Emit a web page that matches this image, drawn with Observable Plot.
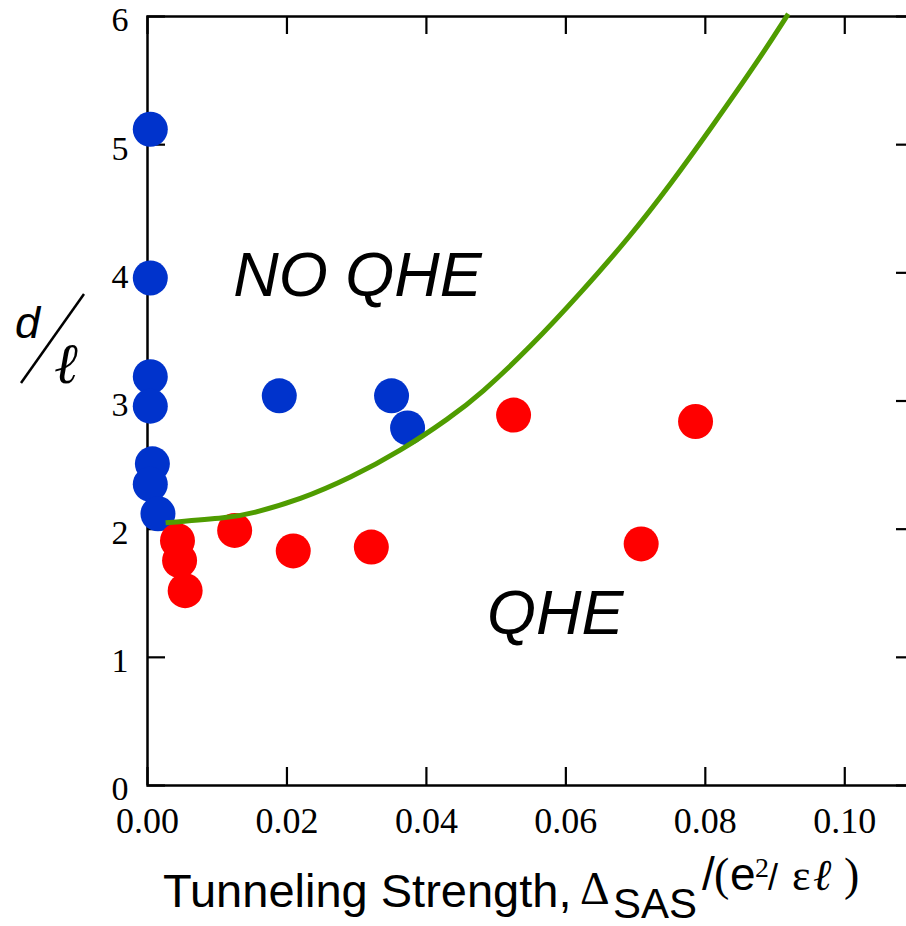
<!DOCTYPE html>
<html><head><meta charset="utf-8">
<script src="https://cdn.jsdelivr.net/npm/d3@7"></script>
<script src="https://cdn.jsdelivr.net/npm/@observablehq/plot@0.6"></script>
<style>
html,body{margin:0;padding:0;background:#fff;overflow:hidden}
</style></head><body><div id="chart"></div>
<script>
// ---- data ----
const noQheX = [0.0004, 0.0004, 0.0004, 0.0004, 0.0007, 0.0004, 0.0015, 0.0189, 0.0350, 0.0373];
const noQheY = [5.12, 3.96, 3.19, 2.96, 2.51, 2.35, 2.12, 3.04, 3.04, 2.79];
const qheX = [0.0043, 0.0046, 0.0054, 0.0125, 0.0209, 0.0321, 0.0525, 0.0708, 0.0786];
const qheY = [1.91, 1.755, 1.52, 1.99, 1.83, 1.86, 2.89, 1.885, 2.84];
const boundaryX = [0.0026, 0.0119, 0.0148, 0.0219, 0.0291, 0.0363, 0.0434, 0.0477, 0.0549, 0.0621, 0.0693, 0.0750, 0.0807, 0.0879, 0.0919];
const boundaryY = [2.05, 2.09, 2.12, 2.23, 2.40, 2.61, 2.87, 3.05, 3.42, 3.84, 4.29, 4.69, 5.12, 5.68, 6.02];
const xTicks = [0, 0.02, 0.04, 0.06, 0.08, 0.10];
const yTicks = [0, 1, 2, 3, 4, 5, 6];
const regionLabels = ["NO QHE", "QHE"];
const regionX = [0.0123, 0.0487];
const regionY = [3.82, 1.18];

// ---- tables built from the arrays ----
const noQhe = noQheX.map((x, i) => ({x, y: noQheY[i]}));
const qhe = qheX.map((x, i) => ({x, y: qheY[i]}));
const boundary = boundaryX.map((x, i) => ({x, y: boundaryY[i]}));
const regions = regionLabels.map((t, i) => ({t, x: regionX[i], y: regionY[i]}));

const W = 906, H = 926;
const mL = 147, mR = -8, mT = 16, mB = 141;
const frameW = W - mL - mR, frameH = H - mT - mB;
const tickLen = 18;
const BLUE = "#0033cc", RED = "#ff0000", GREEN = "#4f9c00";

function titles(...args) {
  const dims = args.find(a => a && typeof a === "object" && "marginLeft" in a && "width" in a) || {width: W, height: H};
  const g = d3.create("svg:g").attr("text-anchor", "start").attr("fill", "black");
  // y-axis label d/ℓ
  g.append("text").attr("x", 15).attr("y", 338)
    .attr("font-family", "Liberation Sans").attr("font-style", "italic").attr("font-size", 45).text("d");
  g.append("line").attr("x1", 21).attr("y1", 383).attr("x2", 84).attr("y2", 294)
    .attr("stroke", "black").attr("stroke-width", 2.5);
  g.append("text").attr("x", 54).attr("y", 383)
    .attr("font-family", "Liberation Serif").attr("font-style", "italic").attr("font-size", 57).text("ℓ");
  // x-axis title
  const base = dims.height - 19;
  const t = g.append("text").attr("y", base);
  t.append("tspan").attr("x", 163).attr("font-family", "Liberation Sans").attr("font-size", 47).text("Tunneling Strength,");
  t.append("tspan").attr("x", 580).attr("y", base - 3).attr("font-family", "Liberation Serif").attr("font-size", 46).text("Δ");
  t.append("tspan").attr("x", 613).attr("y", base + 11).attr("font-family", "Liberation Sans").attr("font-size", 42).text("SAS");
  const up = base - 17;
  t.append("tspan").attr("x", 702).attr("y", up).attr("font-family", "Liberation Sans").attr("font-size", 46).text("/");
  t.append("tspan").attr("x", 714).attr("y", up).attr("font-family", "Liberation Serif").attr("font-size", 46).text("(");
  t.append("tspan").attr("x", 730).attr("y", up).attr("font-family", "Liberation Sans").attr("font-size", 46).text("e");
  t.append("tspan").attr("x", 755).attr("y", up - 13).attr("font-family", "Liberation Serif").attr("font-size", 28).text("2");
  t.append("tspan").attr("x", 768).attr("y", up).attr("font-family", "Liberation Sans").attr("font-size", 36).text("/");
  t.append("tspan").attr("x", 792).attr("y", up).attr("font-family", "Liberation Serif").attr("font-size", 44).text("ε");
  t.append("tspan").attr("x", 813).attr("y", up).attr("font-family", "Liberation Serif").attr("font-style", "italic").attr("font-size", 44).text("ℓ");
  t.append("tspan").attr("x", 844).attr("y", up).attr("font-family", "Liberation Serif").attr("font-size", 46).text(")");
  return g.node();
}

const chart = Plot.plot({
  width: W, height: H,
  marginLeft: mL, marginRight: mR, marginTop: mT, marginBottom: mB,
  x: {domain: [0, 0.11], axis: null},
  y: {domain: [0, 6], axis: null},
  style: {background: "white"},
  marks: [
    Plot.frame({stroke: "black", strokeWidth: 2.5}),
    // inward ticks on all four sides
    Plot.ruleX(xTicks, {x: d => d, insetTop: frameH - tickLen, stroke: "black", strokeWidth: 2.2}),
    Plot.ruleX(xTicks, {x: d => d, insetBottom: frameH - tickLen, stroke: "black", strokeWidth: 2.2}),
    Plot.ruleY(yTicks, {y: d => d, insetRight: frameW - tickLen, stroke: "black", strokeWidth: 2.2}),
    Plot.ruleY(yTicks, {y: d => d, insetLeft: frameW - tickLen, stroke: "black", strokeWidth: 2.2}),
    Plot.axisX(xTicks, {anchor: "bottom", tickSize: 0, tickPadding: 22, tickFormat: d3.format(".2f"),
      fontSize: 36, fontFamily: "Liberation Serif", label: null}),
    Plot.axisY(yTicks, {anchor: "left", tickSize: 0, tickPadding: 19, tickFormat: d3.format("d"),
      fontSize: 34, fontFamily: "Liberation Serif", label: null, dy: 4}),
    Plot.dot(noQhe, {x: "x", y: "y", r: 17.5, fill: BLUE, stroke: null}),
    Plot.dot(qhe, {x: "x", y: "y", r: 17.5, fill: RED, stroke: null}),
    Plot.line(boundary, {x: "x", y: "y", stroke: GREEN, strokeWidth: 5, curve: "basis", strokeLinecap: "butt"}),
    Plot.text(regions, {x: "x", y: "y", text: "t", textAnchor: "start", lineAnchor: "bottom",
      fontSize: 63, fontStyle: "italic", fontFamily: "Liberation Sans", fill: "black"}),
    titles
  ]
});
document.getElementById("chart").appendChild(chart);
</script>
</body></html>
